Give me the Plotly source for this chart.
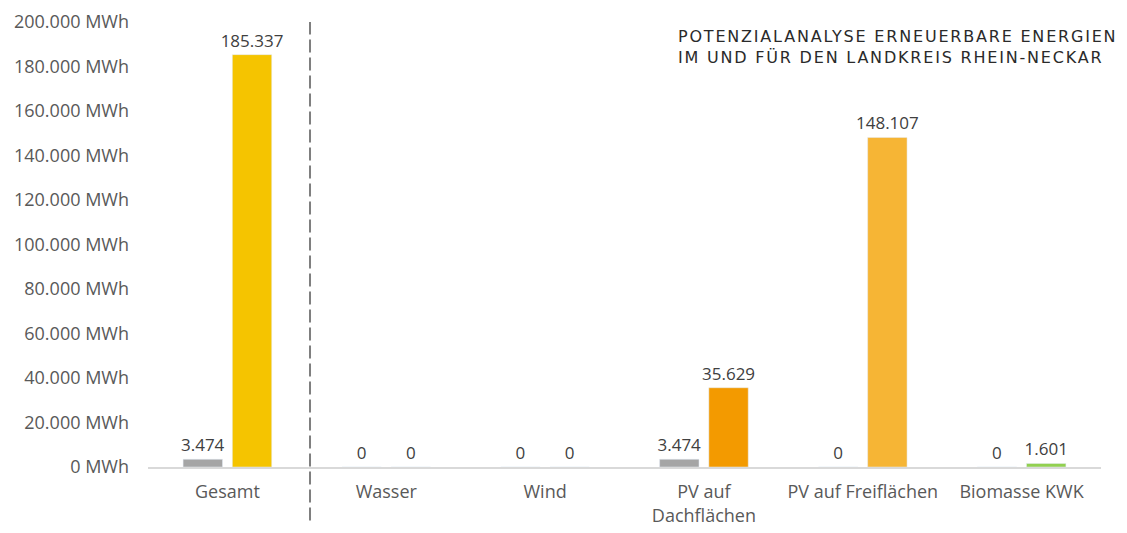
import plotly.graph_objects as go

categories = ["Gesamt", "Wasser", "Wind", "PV auf<br>Dachflächen", "PV auf Freiflächen", "Biomasse KWK"]
bestand = [3474, 0, 0, 3474, 0, 0]
potenzial = [185337, 0, 0, 35629, 148107, 1601]
potenzial_colors = ["#F5C400", "#F5C400", "#F5C400", "#F39A00", "#F6B535", "#92D050"]
y_ticks = list(range(0, 200001, 20000))
y_labels = [f"{v:,}".replace(",", ".") + " MWh" for v in y_ticks]

label_font = dict(family="Open Sans, sans-serif", size=17, color="#404040")

fig = go.Figure()
fig.add_trace(go.Bar(x=categories, y=bestand, marker_color="#A5A5A5",
                     texttemplate="%{y:,d}", textposition="outside", constraintext="none",
                     textfont=label_font, cliponaxis=False))
fig.add_trace(go.Bar(x=categories, y=potenzial, marker_color=potenzial_colors,
                     texttemplate="%{y:,d}", textposition="outside", constraintext="none",
                     textfont=label_font, cliponaxis=False))

# dashed separator between Gesamt and the single categories
fig.add_shape(type="line", xref="x", yref="paper", x0=0.52, x1=0.52, y0=-0.12, y1=1.0,
              line=dict(color="#7F7F7F", width=2, dash="13px,5px"))

title = ("<span style='letter-spacing:1.8px'>POTENZIALANALYSE ERNEUERBARE ENERGIEN</span><br>"
         "<span style='letter-spacing:1.8px'>IM UND FÜR DEN LANDKREIS RHEIN-NECKAR</span>")
fig.add_annotation(xref="paper", yref="paper", x=0.554, y=0.993, xanchor="left", yanchor="top",
                   align="left", showarrow=False, text=title,
                   font=dict(family="DejaVu Sans, sans-serif", size=16, color="#2a2a2a"))

# the page body adds 8px around the figure, margins are reduced by that
fig.update_layout(
    width=1127, height=533,
    margin=dict(l=140, r=34, t=14, b=74),
    plot_bgcolor="white", paper_bgcolor="white",
    separators=",.",
    barmode="group", bargap=0.38, bargroupgap=0.2,
    showlegend=False,
    font=dict(family="Open Sans, sans-serif", size=16, color="#595959"),
)
fig.update_xaxes(showgrid=False, showline=True, linecolor="#D9D9D9", linewidth=1.5,
                 ticks="", tickfont=dict(size=18, color="#595959"),
                 ticklabelstandoff=8, automargin=False)
fig.update_yaxes(range=[0, 200000], tickvals=y_ticks, ticktext=y_labels,
                 showgrid=False, zeroline=False, showline=False, automargin=False,
                 ticklabeloverflow="allow",
                 tickfont=dict(size=18, color="#595959"), ticklabelstandoff=18)

fig.write_html("out.html")
